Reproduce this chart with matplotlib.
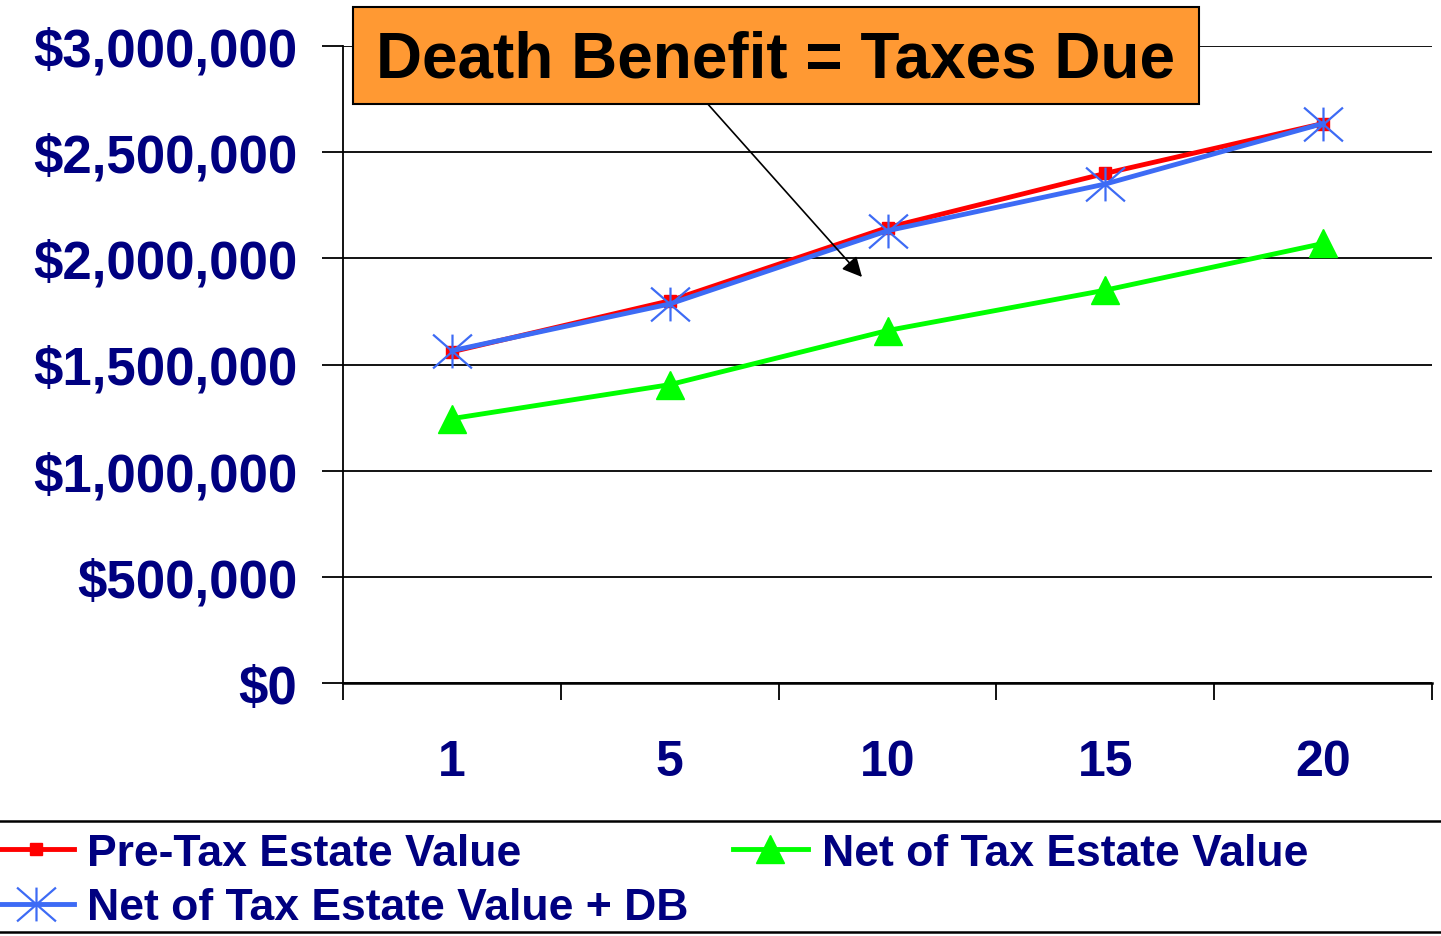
import matplotlib.pyplot as plt
from matplotlib.patches import Rectangle
from matplotlib.lines import Line2D
from matplotlib.path import Path
from matplotlib.ticker import FuncFormatter, FixedLocator

plt.rcParams['font.family'] = ['Liberation Sans', 'DejaVu Sans']

# Data
years = ['1', '5', '10', '15', '20']
preTax = [1560000, 1800000, 2145000, 2400000, 2635000]
netOfTax = [1245000, 1405000, 1660000, 1850000, 2070000]
netPlusDb = [1565000, 1785000, 2130000, 2350000, 2635000]
labels = ['Pre-Tax Estate Value', 'Net of Tax Estate Value', 'Net of Tax Estate Value + DB']
yTicks = [0, 500000, 1000000, 1500000, 2000000, 2500000, 3000000]

navy = '#000080'
W, H = 1441, 937

#Excel style asterisk: vertical bar plus an X
star = Path([(0, -1), (0, 1), (-1.15, -1), (1.15, 1), (-1.15, 1), (1.15, -1)],
            [Path.MOVETO, Path.LINETO] * 3)

fig = plt.figure(figsize=(W / 100, H / 100), dpi=100)
ax = fig.add_axes([343 / W, 1 - 684 / H, (1432 - 343) / W, (684 - 47) / H])

x = range(len(years))
lPre, = ax.plot(x, preTax, color='#FF0000', lw=3.5, marker='s', ms=8, zorder=4)
lNet, = ax.plot(x, netOfTax, color='#00FF00', lw=3.5, marker='^', ms=20, zorder=3)
lDb, = ax.plot(x, netPlusDb, color='#3D6BF5', lw=3.5, marker=star, ms=28, mew=1.6, zorder=5)

ax.set_xlim(-0.5, len(years) - 0.5)
ax.set_ylim(0, 3000000)
ax.set_yticks(yTicks)
ax.yaxis.set_major_formatter(FuncFormatter(lambda v, p: '${:,.0f}'.format(v)))
ax.set_xticks(list(x))
ax.set_xticklabels(years)
ax.xaxis.set_minor_locator(FixedLocator([i - 0.5 for i in range(len(years) + 1)]))

ax.grid(axis='y', color='black', lw=1.3)
ax.set_axisbelow(True)
for s in ['top', 'right']:
    ax.spines[s].set_visible(False)
ax.spines['left'].set_linewidth(1.3)
ax.spines['bottom'].set_linewidth(1.8)

ax.tick_params(axis='y', direction='out', length=15, width=1.3, pad=18,
               labelsize=38, labelcolor=navy)
ax.tick_params(axis='x', which='major', length=0, pad=40, labelsize=36, labelcolor=navy)
ax.tick_params(axis='x', which='minor', direction='out', length=12, width=1.3)
for t in ax.get_yticklabels() + ax.get_xticklabels():
    t.set_fontweight('bold')

# Callout box and arrow
fig.patches.append(Rectangle((353 / W, 1 - 105 / H), (1199 - 353) / W, (105 - 8) / H,
                             transform=fig.transFigure, facecolor='#FF9933',
                             edgecolor='black', lw=1.5, zorder=10))
fig.text(776 / W, 1 - 60 / H, 'Death Benefit = Taxes Due', fontsize=46, fontweight='bold',
         ha='center', va='center', zorder=11)
fig.add_artist(plt.Annotation('', xy=(862 / W, 1 - 278 / H), xytext=(706 / W, 1 - 103 / H),
                              xycoords='figure fraction', textcoords='figure fraction',
                              arrowprops=dict(arrowstyle='-|>', color='black', lw=1.2,
                                              mutation_scale=30, shrinkA=0, shrinkB=0)))

# Legend
leg = fig.legend([lPre, lDb, lNet], [labels[0], labels[2], labels[1]], ncol=2,
                 loc='upper left', bbox_to_anchor=(-2 / W, 1 - 834 / H), frameon=False,
                 prop={'size': 32, 'weight': 'bold'}, handlelength=1.7, handletextpad=0.3,
                 columnspacing=1.0, labelspacing=0.3, borderpad=0, borderaxespad=0)
for t in leg.get_texts():
    t.set_color(navy)
fig.add_artist(Line2D([0, 1], [1 - 822 / H, 1 - 822 / H], transform=fig.transFigure, color='black', lw=1.8))
fig.add_artist(Line2D([0, 1], [1 - 933 / H, 1 - 933 / H], transform=fig.transFigure, color='black', lw=1.8))

fig.savefig('out.png', dpi=100)
